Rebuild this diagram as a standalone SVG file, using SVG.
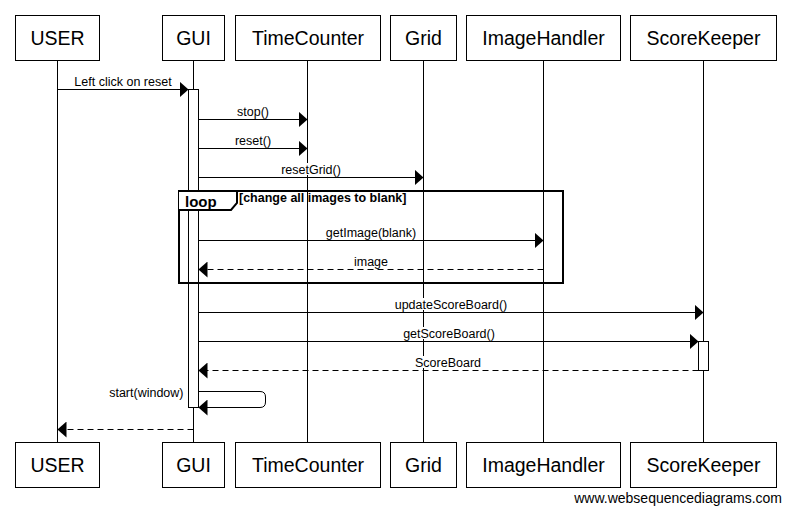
<svg xmlns="http://www.w3.org/2000/svg" width="791" height="512" viewBox="0 0 791 512">
<style>
.box{fill:#fff;stroke:#000;stroke-width:1}
.ht{font-family:"Liberation Sans",Arial,sans-serif;font-size:19.5px;text-anchor:middle;fill:#000}
.life{stroke:#000;stroke-width:1}
.msg{stroke:#000;stroke-width:1;fill:none;marker-end:url(#arr)}
.dash{stroke-dasharray:6 4}
.lbl{font-family:"Liberation Sans",Arial,sans-serif;font-size:12.5px;text-anchor:middle;fill:#000}
.bg{fill:#fff}
.act{fill:#fff;stroke:#000;stroke-width:1}
</style>
<defs>
<marker id="arr" viewBox="0 0 9 16" refX="9" refY="8" markerWidth="9" markerHeight="16" markerUnits="userSpaceOnUse" orient="auto">
<path d="M0,0 L9,8 L0,16 Z" fill="#000"/>
</marker>
</defs>
<rect width="791" height="512" fill="#fff"/>
<g id="lifelines">
<line class="life" x1="57.5" y1="60" x2="57.5" y2="442"/>
<line class="life" x1="193.5" y1="60" x2="193.5" y2="442"/>
<line class="life" x1="307.5" y1="60" x2="307.5" y2="442"/>
<line class="life" x1="423.5" y1="60" x2="423.5" y2="442"/>
<line class="life" x1="543.5" y1="60" x2="543.5" y2="442"/>
<line class="life" x1="703.5" y1="60" x2="703.5" y2="442"/>
</g>
<g id="node-USER">
<rect class="box" x="15.5" y="15.5" width="84" height="45"/><text class="ht" x="57.5" y="44.5">USER</text>
<rect class="box" x="15.5" y="442.5" width="84" height="45"/><text class="ht" x="57.5" y="471.5">USER</text>
</g>
<g id="node-GUI">
<rect class="box" x="162.5" y="15.5" width="62" height="45"/><text class="ht" x="193.5" y="44.5">GUI</text>
<rect class="box" x="162.5" y="442.5" width="62" height="45"/><text class="ht" x="193.5" y="471.5">GUI</text>
</g>
<g id="node-TimeCounter">
<rect class="box" x="235.5" y="15.5" width="145" height="45"/><text class="ht" x="308" y="44.5">TimeCounter</text>
<rect class="box" x="235.5" y="442.5" width="145" height="45"/><text class="ht" x="308" y="471.5">TimeCounter</text>
</g>
<g id="node-Grid">
<rect class="box" x="390.5" y="15.5" width="66" height="45"/><text class="ht" x="423.5" y="44.5">Grid</text>
<rect class="box" x="390.5" y="442.5" width="66" height="45"/><text class="ht" x="423.5" y="471.5">Grid</text>
</g>
<g id="node-ImageHandler">
<rect class="box" x="466.5" y="15.5" width="154" height="45"/><text class="ht" x="543.5" y="44.5">ImageHandler</text>
<rect class="box" x="466.5" y="442.5" width="154" height="45"/><text class="ht" x="543.5" y="471.5">ImageHandler</text>
</g>
<g id="node-ScoreKeeper">
<rect class="box" x="630.5" y="15.5" width="146" height="45"/><text class="ht" x="703.5" y="44.5">ScoreKeeper</text>
<rect class="box" x="630.5" y="442.5" width="146" height="45"/><text class="ht" x="703.5" y="471.5">ScoreKeeper</text>
</g>
<g id="activations">
<rect class="act" x="188.5" y="89.5" width="10" height="318"/>
<rect class="act" x="698.5" y="341.5" width="10" height="29"/>
</g>
<g id="loop-frame">
<rect x="179" y="191" width="384" height="92" fill="none" stroke="#000" stroke-width="2"/>
<path d="M179,191 H237 V203 L231,210 H179" fill="#fff" stroke="#000" stroke-width="2"/>
<text x="185" y="206.5" font-family="Liberation Sans, Arial, sans-serif" font-size="15" font-weight="bold">loop</text>
<text x="239" y="202" font-family="Liberation Sans, Arial, sans-serif" font-size="12.5" font-weight="bold">[change all images to blank]</text>
</g>
<g id="connectors">
<line class="msg" x1="57.5" y1="89.5" x2="188.5" y2="89.5"/>
<rect class="bg" x="72" y="75" width="102" height="12"/>
<text class="lbl" x="123" y="85.5">Left click on reset</text>

<line class="msg" x1="198.5" y1="119.5" x2="307.5" y2="119.5"/>
<rect class="bg" x="236" y="105" width="34" height="12"/>
<text class="lbl" x="253" y="115.5">stop()</text>

<line class="msg" x1="198.5" y1="148.5" x2="307.5" y2="148.5"/>
<rect class="bg" x="234" y="134" width="38" height="12"/>
<text class="lbl" x="253" y="144.5">reset()</text>

<line class="msg" x1="198.5" y1="177.5" x2="423.5" y2="177.5"/>
<rect class="bg" x="280" y="163" width="62" height="12"/>
<text class="lbl" x="311" y="173.5">resetGrid()</text>

<line class="msg" x1="198.5" y1="240.5" x2="543.5" y2="240.5"/>
<rect class="bg" x="324" y="226" width="94" height="12"/>
<text class="lbl" x="371" y="236.5">getImage(blank)</text>

<line class="msg dash" x1="543.5" y1="269.5" x2="198.5" y2="269.5"/>
<rect class="bg" x="353" y="255" width="36" height="12"/>
<text class="lbl" x="371" y="265.5">image</text>

<line class="msg" x1="198.5" y1="312.5" x2="703.5" y2="312.5"/>
<rect class="bg" x="390" y="298" width="122" height="12"/>
<text class="lbl" x="451" y="308.5">updateScoreBoard()</text>

<line class="msg" x1="198.5" y1="341.5" x2="698.5" y2="341.5"/>
<rect class="bg" x="401" y="327" width="96" height="12"/>
<text class="lbl" x="449" y="337.5">getScoreBoard()</text>

<line class="msg dash" x1="698.5" y1="370.5" x2="198.5" y2="370.5"/>
<rect class="bg" x="414" y="356" width="68" height="12"/>
<text class="lbl" x="448" y="366.5">ScoreBoard</text>

<path class="msg" d="M198.5,391.5 H260 Q265.5,391.5 265.5,397 V402 Q265.5,407.5 260,407.5 H198.5"/>
<text class="lbl" x="183.5" y="396.5" style="text-anchor:end">start(window)</text>

<line class="msg dash" x1="193.5" y1="429.5" x2="57.5" y2="429.5"/>
</g>
<text x="782" y="502.5" font-family="Liberation Sans, Arial, sans-serif" font-size="14" text-anchor="end" fill="#000">www.websequencediagrams.com</text>
</svg>
